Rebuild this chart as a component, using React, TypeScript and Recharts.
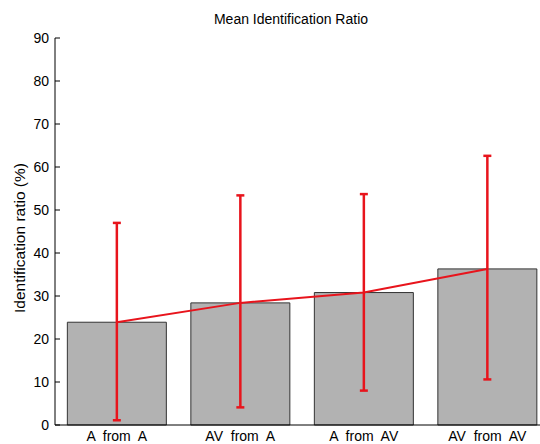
import React from 'react'
import { ComposedChart, Bar, Line, XAxis, YAxis, ErrorBar } from 'recharts'

// conditions on the x axis
const conditions = ['A  from  A', 'AV  from  A', 'A  from  AV', 'AV  from  AV']
// mean identification ratio (%)
const means = [23.9, 28.4, 30.8, 36.3]
// error bar ends (%)
const upper = [47.0, 53.4, 53.7, 62.6]
const lower = [1.1, 4.1, 8.0, 10.6]
const yTicks = [0, 10, 20, 30, 40, 50, 60, 70, 80, 90]

const chartData = conditions.map((name, i) => ({
  name,
  mean: means[i],
  err: [means[i] - lower[i], upper[i] - means[i]],
}))

const font = 'Arial, "Liberation Sans", sans-serif'

function CategoryTick(props: any) {
  const { x, y, payload } = props
  return (
    <text
      x={x}
      y={y + 16}
      textAnchor="middle"
      fill="#000"
      fontSize={14}
      fontFamily={font}
      style={{ whiteSpace: 'pre' }}
    >
      {payload.value}
    </text>
  )
}

export default function App() {
  return (
    <div
      style={{
        position: 'fixed',
        left: 0,
        top: 0,
        width: 540,
        height: 444,
        overflow: 'hidden',
        background: '#fff',
        fontFamily: font,
      }}
    >
      <div
        style={{
          position: 'absolute',
          left: 191,
          top: 11,
          width: 200,
          textAlign: 'center',
          fontSize: 14,
          lineHeight: '16px',
          color: '#000',
        }}
      >
        Mean Identification Ratio
      </div>
      <div
        style={{
          position: 'absolute',
          left: 20 - 100,
          top: 238 - 9,
          width: 200,
          textAlign: 'center',
          fontSize: 15.5,
          lineHeight: '18px',
          color: '#000',
          transform: 'rotate(-90deg)',
        }}
      >
        Identification ratio (%)
      </div>
      <ComposedChart
        width={560}
        height={444}
        data={chartData}
        barCategoryGap="10%"
        margin={{ top: 38, right: 11, bottom: 0, left: 10 }}
      >
        <XAxis
          dataKey="name"
          height={19}
          axisLine={{ stroke: '#000' }}
          tickLine={false}
          tickSize={0}
          tickMargin={0}
          tick={<CategoryTick />}
          interval={0}
        />
        <YAxis
          width={45}
          domain={[0, 90]}
          ticks={yTicks}
          axisLine={{ stroke: '#000' }}
          tickLine={{ stroke: '#000' }}
          tickSize={-5}
          tickMargin={11}
          tick={{ fill: '#000', fontSize: 14, fontFamily: font }}
        />
        <Bar dataKey="mean" fill="#b2b2b2" stroke="#333" strokeWidth={1} isAnimationActive={false}>
          <ErrorBar dataKey="err" width={4} stroke="#e8141c" strokeWidth={2.5} isAnimationActive={false} />
        </Bar>
        <Line
          dataKey="mean"
          stroke="#e8141c"
          strokeWidth={2}
          dot={false}
          activeDot={false}
          isAnimationActive={false}
        />
      </ComposedChart>
    </div>
  )
}
